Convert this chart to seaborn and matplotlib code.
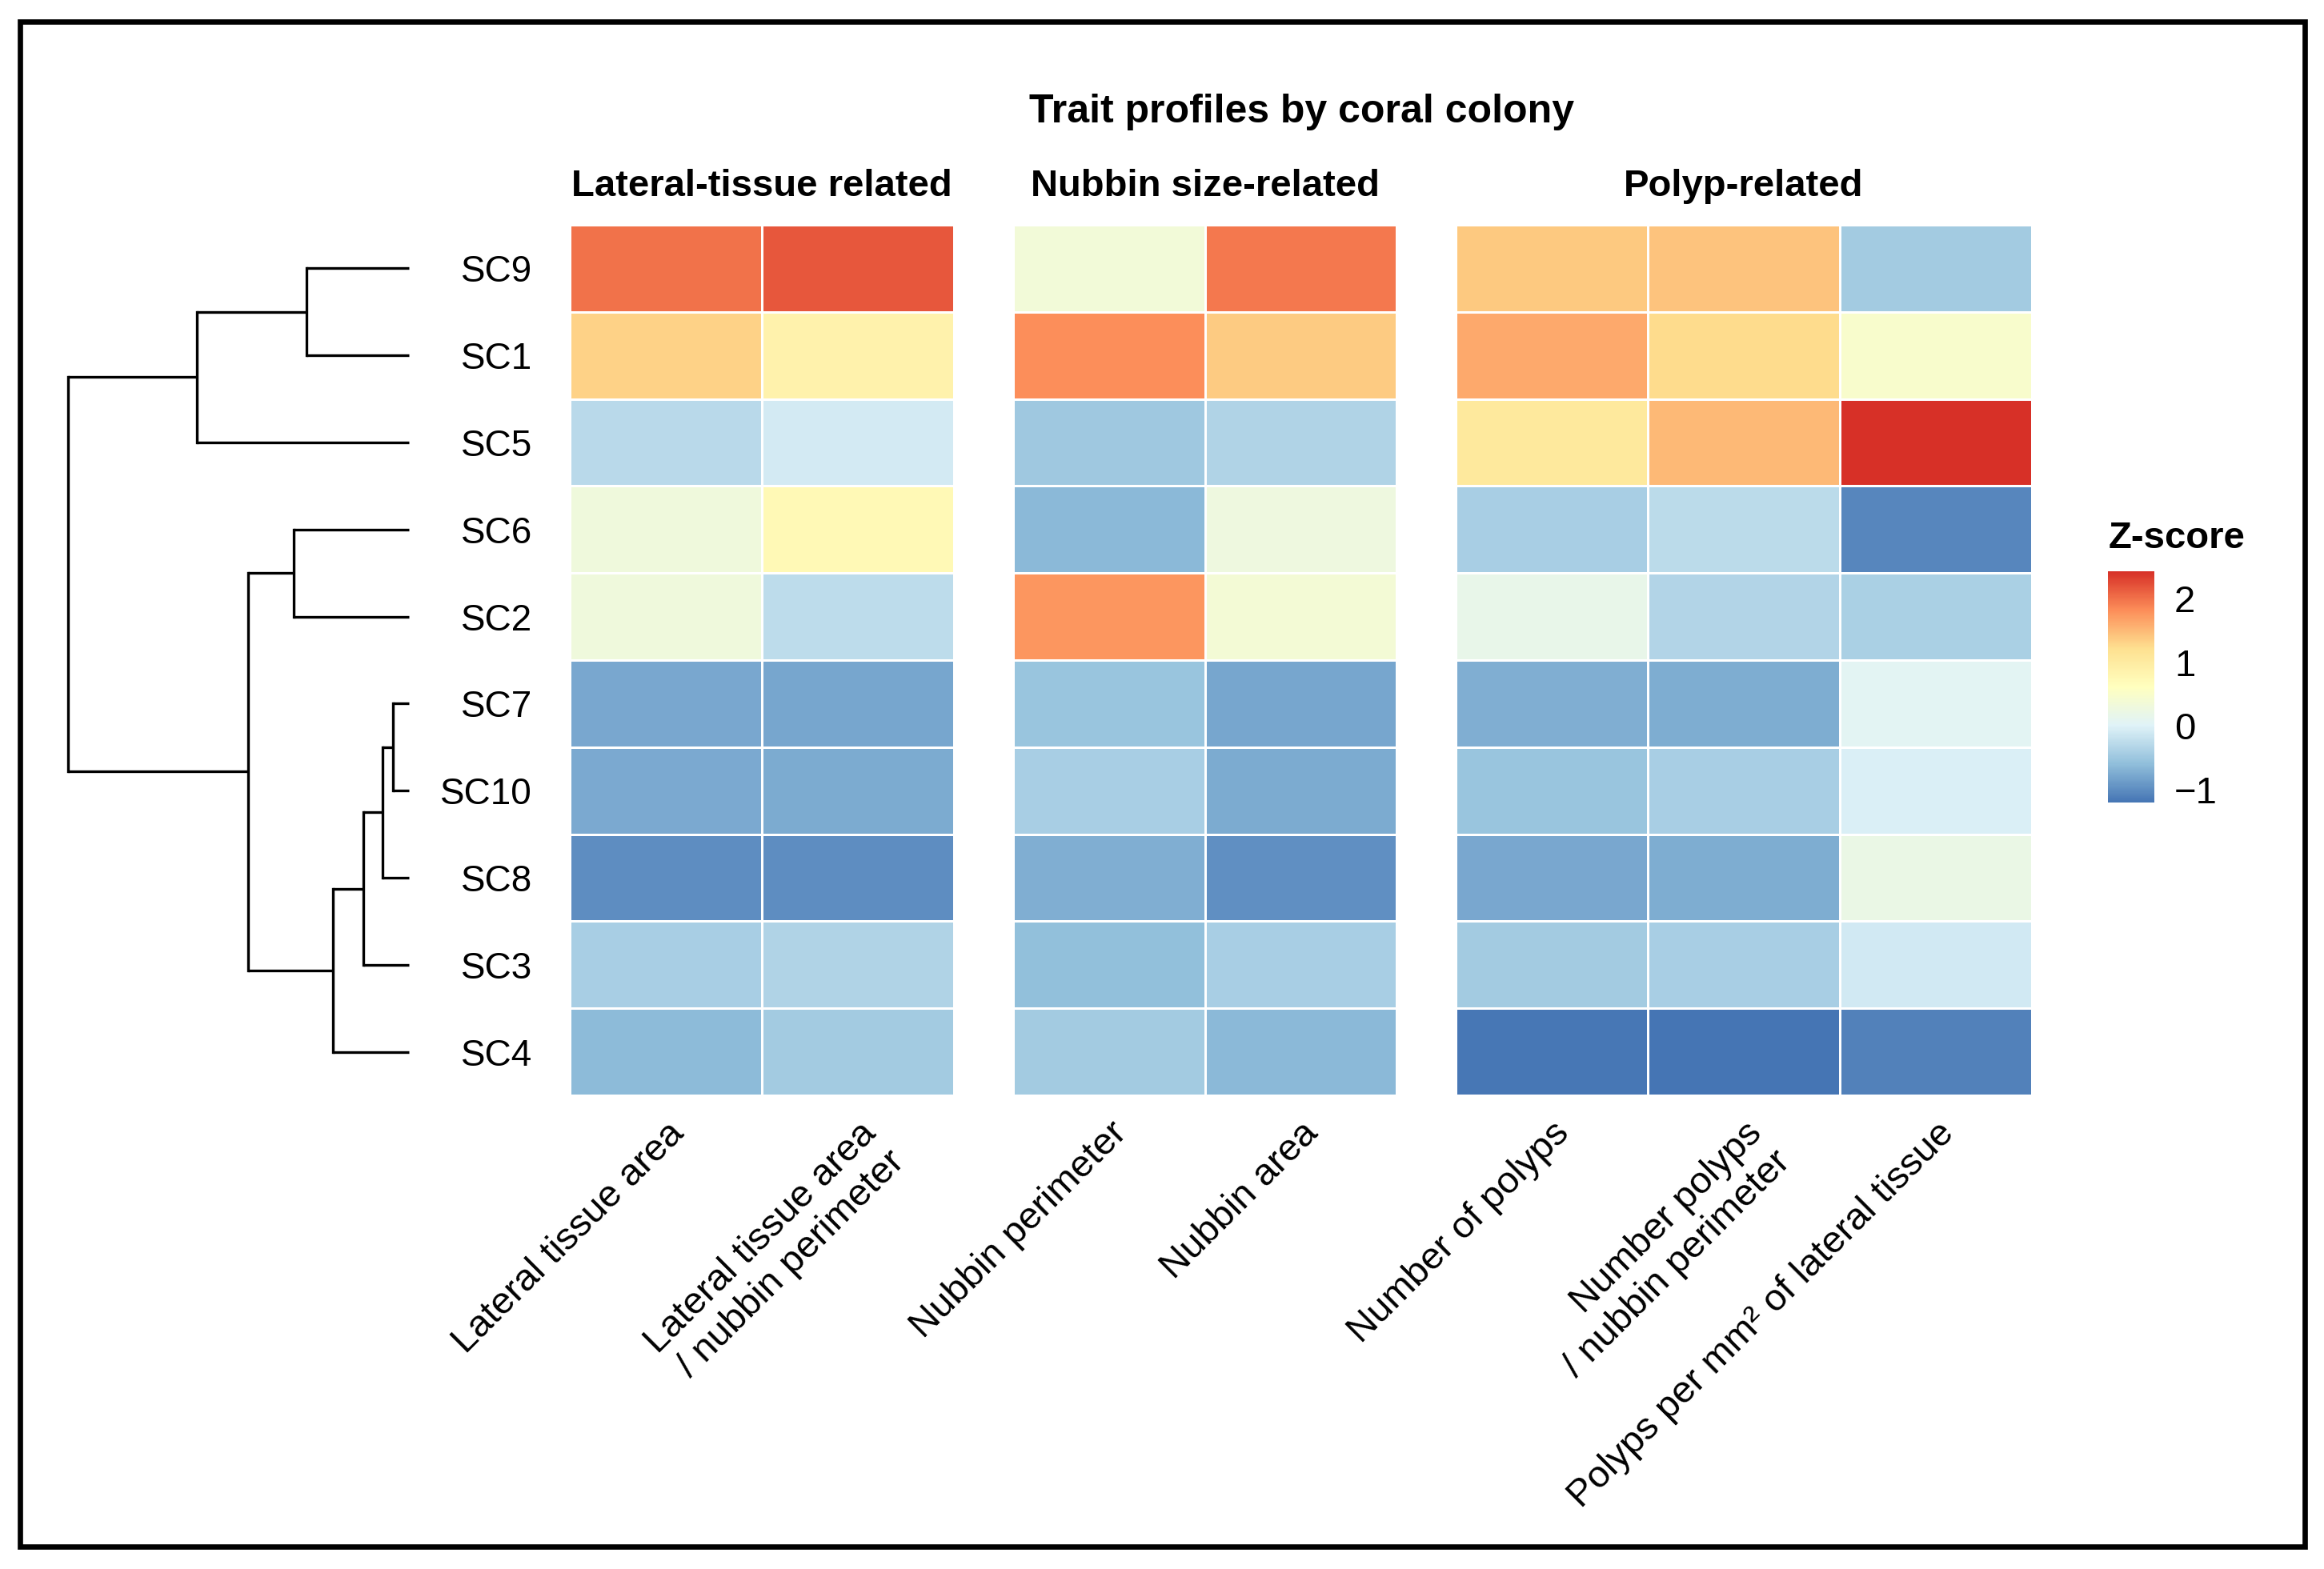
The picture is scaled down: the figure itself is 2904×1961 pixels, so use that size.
import matplotlib
matplotlib.use("Agg")
import matplotlib.pyplot as plt
import seaborn as sns
import pandas as pd
from matplotlib.colors import LinearSegmentedColormap, Normalize
from matplotlib.cm import ScalarMappable
from matplotlib.patches import Rectangle

sns.set_style("white")
plt.rcParams['font.family'] = ['Liberation Sans', 'DejaVu Sans']
plt.rcParams['text.color'] = 'black'
plt.rcParams['xtick.color'] = 'black'
plt.rcParams['ytick.color'] = 'black'

# colonies in dendrogram (row) order
colonies = ["SC9", "SC1", "SC5", "SC6", "SC2", "SC7", "SC10", "SC8", "SC3", "SC4"]

traits = ["Lateral tissue area", "Lateral tissue area\n/ nubbin perimeter",
          "Nubbin perimeter", "Nubbin area",
          "Number of polyps", "Number polyps\n/ nubbin perimeter",
          "Polyps per mm² of lateral tissue"]
group_names = ["Lateral-tissue related", "Nubbin size-related", "Polyp-related"]
group_sizes = [2, 2, 3]

# z-scores per trait (same order as colonies)
lat_area = [2.00, 1.31, -0.29, 0.31, 0.31, -0.78, -0.77, -0.99, -0.41, -0.63]
lat_area_per_perim = [2.17, 0.87, -0.08, 0.73, -0.25, -0.79, -0.76, -0.99, -0.35, -0.46]
nub_perim = [0.35, 1.82, -0.49, -0.64, 1.76, -0.52, -0.42, -0.73, -0.58, -0.46]
nub_area = [1.95, 1.38, -0.36, 0.28, 0.38, -0.79, -0.75, -0.98, -0.41, -0.64]
n_polyps = [1.39, 1.61, 1.05, -0.42, 0.17, -0.73, -0.52, -0.78, -0.45, -1.18]
polyps_per_perim = [1.43, 1.24, 1.50, -0.27, -0.34, -0.74, -0.41, -0.74, -0.41, -1.20]
polyps_per_mm2 = [-0.45, 0.48, 2.42, -1.05, -0.40, 0.07, -0.03, 0.21, -0.10, -1.10]

# clustering of colonies: leaves 0-9, merged nodes numbered 10 onwards
merge_left = [5, 10, 11, 12, 0, 3, 15, 14, 17]
merge_right = [6, 7, 8, 9, 1, 4, 13, 2, 16]
merge_height = [0.20, 0.33, 0.57, 0.95, 1.28, 1.44, 2.01, 2.65, 4.26]

zmin, zmax = -1.2, 2.43
palette = ["#4575B4", "#91BFDB", "#E0F3F8", "#FFFFBF", "#FEE090", "#FC8D59", "#D73027"]
cmap = LinearSegmentedColormap.from_list("pheat", palette, N=256)

df = pd.DataFrame(dict(zip(traits, [lat_area, lat_area_per_perim, nub_perim, nub_area,
                                    n_polyps, polyps_per_perim, polyps_per_mm2])),
                  index=colonies)

W, H = 2904, 1961
fig = plt.figure(figsize=(W / 200, H / 200), dpi=200)


def px_axes(x0, y0, x1, y1):
    return fig.add_axes([x0 / W, 1 - y1 / H, (x1 - x0) / W, (y1 - y0) / H])


top, bottom = 281, 1369
blocks = [(712, 1192), (1266, 1745), (1819, 2539)]

start = 0
for i, (x0, x1) in enumerate(blocks):
    cols = traits[start:start + group_sizes[i]]
    start += group_sizes[i]
    ax = px_axes(x0, top, x1, bottom)
    sns.heatmap(df[cols], ax=ax, cmap=cmap, vmin=zmin, vmax=zmax, cbar=False,
                linewidths=0.5, linecolor="white",
                yticklabels=(i == 0), xticklabels=True)
    ax.set_xticklabels(cols, rotation=45, ha="right", va="top",
                       rotation_mode="anchor", multialignment="right", fontsize=17)
    ax.tick_params(axis="x", length=0, pad=9)
    ax.tick_params(axis="y", length=0, pad=17)
    if i == 0:
        ax.set_yticklabels(colonies, rotation=0, fontsize=16.5, va="center_baseline")
    ax.set_xlabel("")
    ax.set_ylabel("")
    ax.set_title(group_names[i], fontsize=17, fontweight="bold", pad=13)

# dendrogram
dax = px_axes(85, top, 511, bottom)
pos = {k: k + 0.5 for k in range(len(colonies))}
hgt = {k: 0.0 for k in range(len(colonies))}
for k in range(len(merge_height)):
    l, r, h = merge_left[k], merge_right[k], merge_height[k]
    for c in (l, r):
        dax.plot([hgt[c], h], [pos[c], pos[c]], color="black", lw=1.2,
                 clip_on=False, solid_capstyle="butt")
    dax.plot([h, h], [pos[l], pos[r]], color="black", lw=1.2, clip_on=False,
             solid_capstyle="projecting")
    node = len(colonies) + k
    pos[node] = (pos[l] + pos[r]) / 2
    hgt[node] = h
dax.set_xlim(max(merge_height), 0)
dax.set_ylim(len(colonies), 0)
dax.axis("off")

fig.text(1626 / W, 1 - 153 / H, "Trait profiles by coral colony",
         ha="center", va="baseline", fontsize=18, fontweight="bold")

# colour bar legend
fig.text(2635 / W, 1 - 685 / H, "Z-score", ha="left", va="baseline",
         fontsize=17, fontweight="bold")
cax = px_axes(2634, 714, 2692, 1003)
cb = fig.colorbar(ScalarMappable(norm=Normalize(zmin, zmax), cmap=cmap), cax=cax,
                  ticks=[-1, 0, 1, 2])
cb.outline.set_visible(False)
cax.tick_params(direction="in", color="white", length=4.4, width=0.8,
                left=True, right=True, labelleft=False, labelright=True,
                labelsize=17, labelcolor="black", pad=9)

fig.patches.append(Rectangle((25 / W, 1 - 1933 / H), (2880 - 25) / W, (1933 - 27) / H,
                             transform=fig.transFigure, fill=False, lw=2.4,
                             ec="black"))

fig.savefig("out.png", dpi=200)
